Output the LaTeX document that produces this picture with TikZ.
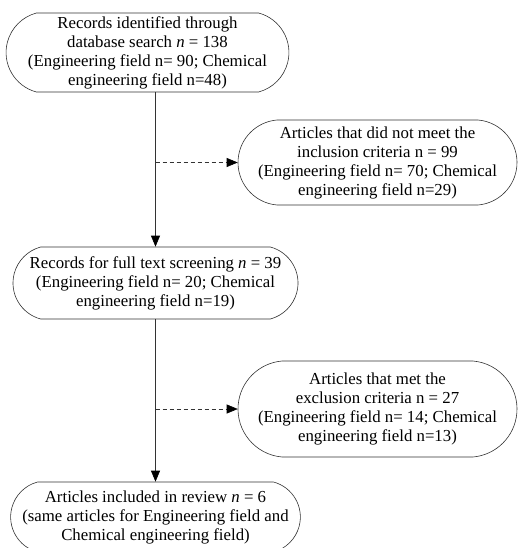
\documentclass[tikz,border=0pt]{standalone}
\usepackage{fontspec}
\setmainfont{Liberation Serif}
\usetikzlibrary{shapes.misc,arrows.meta}
\tikzset{
  stage/.style={draw=black!80, line width=0.6pt, rounded rectangle, rounded rectangle arc length=150,
    align=center, inner sep=0pt, font=\fontsize{16.8}{19}\selectfont},
  side/.style={stage, rounded rectangle arc length=170},
  flow/.style={draw=black!80, line width=0.6pt, -{Triangle[length=11pt,width=9pt,color=black]}},
  skip/.style={flow, dash pattern=on 4pt off 3pt},
}
\begin{document}
\begin{tikzpicture}[x=1pt,y=-1pt]
  \useasboundingbox (0,0) rectangle (518,548);
  \clip (0,0) rectangle (518,548);
  % boxes
  \node[stage, minimum width=269pt, minimum height=79pt] (ident) at (147.5,52.5)
    {Records identified through\\database search \textit{n} = 138\\(Engineering field n= 90; Chemical\\engineering field n=48)};
  \node[side, minimum width=279pt, minimum height=85pt] (notmet) at (377.5,162.5)
    {Articles that did not meet the\\inclusion criteria n = 99\\(Engineering field n= 70; Chemical\\engineering field n=29)};
  \node[stage, minimum width=285pt, minimum height=72pt] (full) at (155.5,283)
    {Records for full text screening \textit{n} = 39\\(Engineering field n= 20; Chemical\\engineering field n=19)};
  \node[side, minimum width=279pt, minimum height=96pt] (met) at (377.5,409)
    {Articles that met the\\exclusion criteria n = 27\\(Engineering field n= 14; Chemical\\engineering field n=13)};
  \node[stage, minimum width=285pt, minimum height=70pt] (incl) at (155.5,517)
    {Articles included in review \textit{n} = 6\\(same articles for Engineering field and\\Chemical engineering field)};
  % connectors
  \draw[flow] (full.north |- ident.south) -- (full.north);
  \draw[skip] (full.north |- notmet.west) -- (notmet.west);
  \draw[flow] (full.south) -- (incl.north);
  \draw[skip] (full.south |- met.west) -- (met.west);
\end{tikzpicture}
\end{document}
